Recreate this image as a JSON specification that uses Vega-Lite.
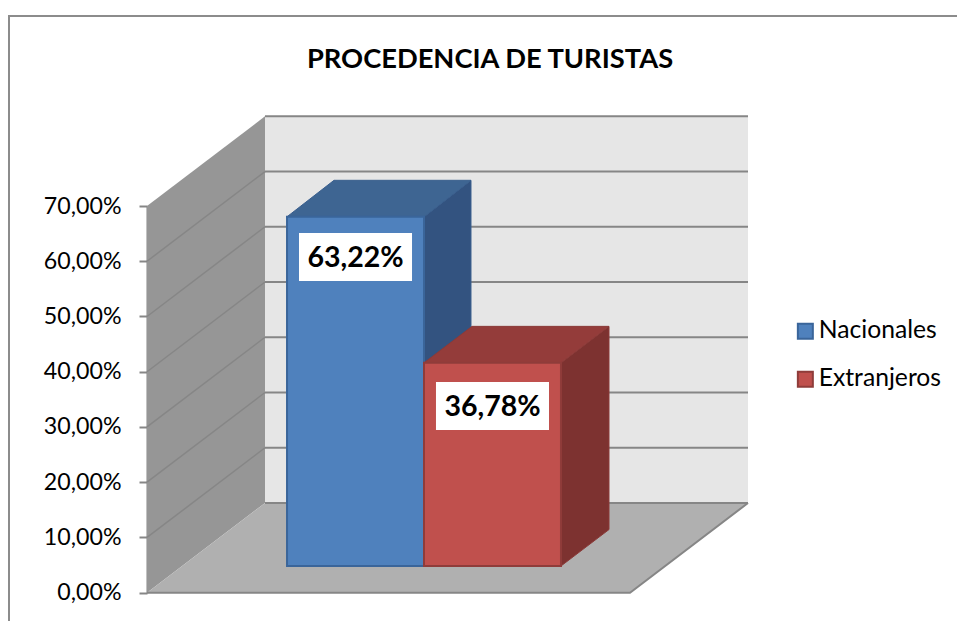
{
"$schema":"https://vega.github.io/schema/vega-lite/v6.json",
"width":948,"height":605,
"padding":{"left":9,"top":16,"right":0,"bottom":0},
"autosize":{"type":"none"},
"background":"white",
"config":{"view":{"stroke":null},"font":"Lato"},
"title":{"text":"PROCEDENCIA DE TURISTAS","font":"Lato","fontSize":27.3,"fontWeight":"bold","color":"#000000","anchor":"middle","frame":"group","dx":7,"offset":-61},
"datasets":{
"paredes":[
{"cara":"fondo","x":24.43,"x2":124.43,"y":16.24,"y2":86.24},
{"cara":"lateral","x":0,"y":0,"y2":70},
{"cara":"lateral","x":24.43,"y":16.24,"y2":86.24},
{"cara":"piso","x":0,"x2":100,"y":0},
{"cara":"piso","x":24.43,"x2":124.43,"y":16.24}
],
"marco":[
{"x":-28.57,"y":-5.12},{"x":-28.57,"y":104.4},{"x":167.7,"y":104.4}
],
"rejilla":[
{"linea":"f0","x":24.43,"y":16.24},{"linea":"f0","x":124.43,"y":16.24},
{"linea":"f1","x":24.43,"y":26.24},{"linea":"f1","x":124.43,"y":26.24},
{"linea":"f2","x":24.43,"y":36.24},{"linea":"f2","x":124.43,"y":36.24},
{"linea":"f3","x":24.43,"y":46.24},{"linea":"f3","x":124.43,"y":46.24},
{"linea":"f4","x":24.43,"y":56.24},{"linea":"f4","x":124.43,"y":56.24},
{"linea":"f5","x":24.43,"y":66.24},{"linea":"f5","x":124.43,"y":66.24},
{"linea":"f6","x":24.43,"y":76.24},{"linea":"f6","x":124.43,"y":76.24},
{"linea":"f7","x":24.43,"y":86.24},{"linea":"f7","x":124.43,"y":86.24},
{"linea":"l1","x":0,"y":10},{"linea":"l1","x":24.43,"y":26.24},
{"linea":"l2","x":0,"y":20},{"linea":"l2","x":24.43,"y":36.24},
{"linea":"l3","x":0,"y":30},{"linea":"l3","x":24.43,"y":46.24},
{"linea":"l4","x":0,"y":40},{"linea":"l4","x":24.43,"y":56.24},
{"linea":"l5","x":0,"y":50},{"linea":"l5","x":24.43,"y":66.24},
{"linea":"l6","x":0,"y":60},{"linea":"l6","x":24.43,"y":76.24},
{"linea":"b0","x":0,"y":0},{"linea":"b0","x":100,"y":0},{"linea":"b0","x":124.43,"y":16.24}
],
"caras":[
{"cara":"ladoN","x":57.35,"y":4.83,"y2":68.05},
{"cara":"ladoN","x":67.08,"y":11.43,"y2":74.65},
{"cara":"techoN","x":28.99,"x2":57.35,"y":68.05},
{"cara":"techoN","x":38.72,"x2":67.08,"y":74.65},
{"cara":"ladoE","x":85.71,"y":4.83,"y2":41.61},
{"cara":"ladoE","x":95.65,"y":11.43,"y2":48.21},
{"cara":"techoE","x":57.35,"x2":85.71,"y":41.61},
{"cara":"techoE","x":67.29,"x2":95.65,"y":48.21}
],
"barras":[
{"serie":"Nacionales","valor":63.22,"x":28.99,"x2":57.35,"y":4.83,"y2":68.05},
{"serie":"Extranjeros","valor":36.78,"x":57.35,"x2":85.71,"y":4.83,"y2":41.61}
],
"etiquetas":[
{"texto":"63,22%","x":31.47,"x2":54.87,"y":56.43,"y2":65.1,"cx":43.17,"cy":60.6},
{"texto":"36,78%","x":59.83,"x2":83.23,"y":29.45,"y2":38.14,"cx":71.53,"cy":33.6}
]
},
"data":{"name":"paredes"},
"encoding":{
"x":{"field":"x","type":"quantitative","scale":{"domain":[0,100],"range":[138,621],"nice":false,"zero":false},"axis":null},
"y":{"field":"y","type":"quantitative","scale":{"domain":[0,70],"range":[576.7,190],"nice":false,"zero":false},
"axis":{"title":null,"values":[0,10,20,30,40,50,60,70],"grid":false,"offset":-138,"tickSize":8,"tickWidth":2,"tickColor":"#868686","domainColor":"#868686","domainWidth":2,"labelFont":"Lato","labelFontSize":23.2,"labelColor":"#000000","labelPadding":18,"labelExpr":"replace(format(datum.value,'.2f'),'.',',')+'%'"}}
},
"layer":[
{"data":{"name":"marco"},"mark":{"type":"line","color":"#8c8c8c","strokeWidth":2,"clip":false},"encoding":{}},
{"transform":[{"filter":"datum.cara=='fondo'"}],"mark":{"type":"rect","color":"#e6e6e6"},"encoding":{"x2":{"field":"x2"},"y2":{"field":"y2"}}},
{"transform":[{"filter":"datum.cara=='lateral'"}],"mark":{"type":"area","color":"#969696","orient":"vertical"},"encoding":{"y2":{"field":"y2"}}},
{"transform":[{"filter":"datum.cara=='piso'"}],"mark":{"type":"area","color":"#b0b0b0","orient":"horizontal"},"encoding":{"x2":{"field":"x2"}}},
{"data":{"name":"rejilla"},"transform":[{"filter":"indexof(datum.linea,'l')==0"}],"mark":{"type":"line","color":"#868686","strokeWidth":1.5},"encoding":{"detail":{"field":"linea"}}},
{"data":{"name":"rejilla"},"transform":[{"filter":"indexof(datum.linea,'l')!=0"}],"mark":{"type":"line","color":"#868686","strokeWidth":2},"encoding":{"detail":{"field":"linea"},"order":{"field":"x"}}},
{"data":{"name":"caras"},"transform":[{"filter":"datum.cara=='ladoN'"}],"mark":{"type":"area","color":"#335380","stroke":"#3a5f8e","orient":"vertical"},"encoding":{"y2":{"field":"y2"}}},
{"data":{"name":"caras"},"transform":[{"filter":"datum.cara=='techoN'"}],"mark":{"type":"area","color":"#3e6592","stroke":"#3a5f8e","orient":"horizontal"},"encoding":{"x2":{"field":"x2"}}},
{"data":{"name":"barras"},"transform":[{"filter":"datum.serie=='Nacionales'"}],"mark":{"type":"rect","strokeWidth":2},"encoding":{"x2":{"field":"x2"},"y2":{"field":"y2"},
"color":{"field":"serie","type":"nominal","sort":["Nacionales","Extranjeros"],"scale":{"domain":["Nacionales","Extranjeros"],"range":["#4f81bd","#c0504d"]},"legend":{"title":null,"orient":"none","legendX":784,"legendY":303,"symbolType":"square","symbolSize":225,"symbolStrokeWidth":2,"symbolOpacity":1,"labelFont":"Lato","labelFontSize":24.7,"labelColor":"#000000","labelOffset":1,"rowPadding":22,"labelLimit":200}},
"stroke":{"field":"serie","type":"nominal","sort":["Nacionales","Extranjeros"],"scale":{"domain":["Nacionales","Extranjeros"],"range":["#3a659a","#8f3c3a"]},"legend":{"title":null,"orient":"none","legendX":784,"legendY":303,"symbolType":"square","symbolSize":225,"symbolStrokeWidth":2,"symbolOpacity":1,"labelFont":"Lato","labelFontSize":24.7,"labelColor":"#000000","labelOffset":1,"rowPadding":22,"labelLimit":200}}}},
{"data":{"name":"caras"},"transform":[{"filter":"datum.cara=='ladoE'"}],"mark":{"type":"area","color":"#7d3230","stroke":"#8b3a38","orient":"vertical"},"encoding":{"y2":{"field":"y2"}}},
{"data":{"name":"caras"},"transform":[{"filter":"datum.cara=='techoE'"}],"mark":{"type":"area","color":"#943c3a","stroke":"#8b3a38","orient":"horizontal"},"encoding":{"x2":{"field":"x2"}}},
{"data":{"name":"barras"},"transform":[{"filter":"datum.serie=='Extranjeros'"}],"mark":{"type":"rect","strokeWidth":2},"encoding":{"x2":{"field":"x2"},"y2":{"field":"y2"},"color":{"field":"serie","type":"nominal"},"stroke":{"field":"serie","type":"nominal"}}},
{"data":{"name":"etiquetas"},"mark":{"type":"rect","color":"#ffffff"},"encoding":{"x2":{"field":"x2"},"y2":{"field":"y2"}}},
{"data":{"name":"etiquetas"},"mark":{"type":"text","font":"Lato","fontSize":28.5,"fontWeight":"bold","color":"#000000","align":"center","baseline":"middle"},"encoding":{"x":{"field":"cx","type":"quantitative"},"y":{"field":"cy","type":"quantitative"},"text":{"field":"texto"}}}
]
}
